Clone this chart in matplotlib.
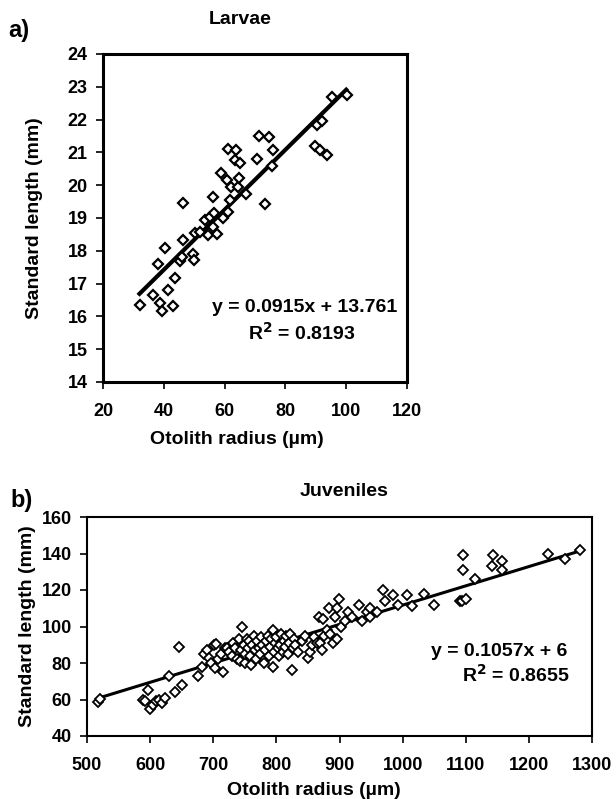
import numpy as np
import matplotlib
matplotlib.use("Agg")
import matplotlib.pyplot as plt

plt.rcParams["font.family"] = ["Liberation Sans", "DejaVu Sans"]
plt.rcParams["font.weight"] = "bold"

# ---------- data: larvae ----------
larv_x = [32.2, 36.5, 38.2, 38.8, 39.3, 40.4, 41.5, 42.9, 43.7, 45.3, 45.9, 46.2,
          46.4, 49.7, 50.0, 50.3, 51.9, 53.5, 54.7, 55.2, 56.1, 56.1, 56.5, 57.4,
          58.7, 59.6, 60.7, 61.2, 61.2, 61.8, 62.0, 63.4, 63.8, 64.5, 64.7, 65.1,
          67.2, 70.8, 71.3, 73.2, 74.7, 75.6, 75.8, 89.7, 90.3, 91.4, 91.9, 93.8,
          95.2, 100.1]
larv_y = [16.35, 16.65, 17.6, 16.4, 16.17, 18.1, 16.8, 16.33, 17.16, 17.7, 17.82, 19.47,
          18.33, 17.9, 17.72, 18.53, 18.58, 18.94, 18.48, 19.04, 19.65, 18.73, 19.14, 18.51,
          20.36, 18.99, 20.16, 21.1, 19.19, 19.55, 19.95, 20.77, 21.07, 19.93, 20.23, 20.69,
          19.73, 20.8, 21.5, 19.43, 21.46, 20.58, 21.07, 21.2, 21.84, 21.07, 21.97, 20.92,
          22.7, 22.75]
larv_fit = (0.0915, 13.761)
larv_range = (32, 100)

# ---------- data: juveniles ----------
juv_x = [518, 521, 588, 592, 596, 600, 604, 609, 614, 619, 624, 630, 640, 645, 650,
         676, 682, 686, 690, 694, 697, 701, 703, 705, 708, 712, 716, 719, 721, 725,
         729, 731, 734, 737, 740, 742, 744, 746, 748, 750, 751, 753, 755, 757, 759, 760,
         762, 764, 766, 768, 770, 772, 774, 776, 778, 780, 782, 784, 786, 788, 790, 792,
         794, 794, 796, 798, 800, 802, 804, 806, 808, 810, 812, 814, 816, 818, 820, 822,
         824, 826, 828, 830,
         835, 840, 845, 850, 853, 857, 860, 864, 868, 869, 872, 874, 876, 880, 883, 885,
         890, 893, 896, 896, 899, 903, 908,
         914, 920, 931, 936, 943, 948, 949, 960, 969, 972, 985, 993, 1007, 1015, 1034, 1050,
         1091, 1094, 1101, 1095, 1096, 1115, 1141, 1143, 1157, 1157, 1231, 1257, 1281]
juv_y = [58.5, 60.5, 60, 59, 65, 55, 57, 59, 60, 58, 61, 73, 64, 89, 68,
         73, 78, 85, 87, 83, 80, 90, 77, 90.5, 82, 85, 75, 88, 88, 86,
         84, 91, 88, 82, 93, 81, 87, 100, 90, 80, 85, 93, 88, 92, 84, 79,
         90, 95, 87, 82, 92, 88, 85, 94, 90, 80, 87, 92, 95, 84, 89, 93,
         98, 78, 86, 91, 94, 88, 84, 90, 96, 86, 92, 89, 95, 85, 91, 96,
         76, 88, 93, 90,
         86, 92, 95, 83, 86, 90, 94, 91, 105, 91, 87, 104, 95, 98, 110, 96,
         91, 105, 93, 110, 115, 100, 103,
         108, 105, 112, 103, 108, 105, 110, 108, 120, 114, 117, 112, 117, 111, 118, 112,
         114, 114, 115, 131, 139, 126, 133, 139, 136, 131, 140, 137, 142]
juv_fit = (0.1057, 6)
juv_range = (520, 1280)

W, H = 616, 799


def px(x, y):
    return x / W, 1 - y / H


def style_axes(ax, spine_lw):
    for s in ax.spines.values():
        s.set_linewidth(spine_lw)
    ax.tick_params(direction="out", length=5, width=1.2, labelsize=13)
    ax.tick_params(axis="x", pad=10)
    ax.tick_params(axis="y", pad=6)
    for lbl in ax.get_xticklabels() + ax.get_yticklabels():
        lbl.set_fontweight("bold")


fig = plt.figure(figsize=(W / 100, H / 100), dpi=100)

# ---------- a) larvae ----------
ax1 = fig.add_axes([103 / W, 1 - 382 / H, (407 - 103) / W, (382 - 54) / H])
ax1.plot(larv_x, larv_y, "D", ms=5.5, mfc="white", mec="black", mew=1.6, zorder=3)
xl = np.array(larv_range)
ax1.plot(xl, larv_fit[0] * xl + larv_fit[1], color="black", lw=3, zorder=2)
ax1.set_xlim(20, 120)
ax1.set_ylim(14, 24)
ax1.set_xticks(range(20, 121, 20))
ax1.set_yticks(range(14, 25))
style_axes(ax1, 2.2)
ax1.set_xlabel("Otolith radius (µm)", fontsize=14, fontweight="bold", labelpad=8)
ax1.xaxis.label.set_x(0.44)
ax1.set_ylabel("Standard length (mm)", fontsize=14, fontweight="bold", labelpad=18)

fig.text(*px(8, 30), "a)", fontsize=17, fontweight="bold", ha="left", va="center")
fig.text(*px(240, 20), "Larvae", fontsize=14, fontweight="bold", ha="center", va="center")
fig.text(*px(305, 308), "y = 0.0915x + 13.761", fontsize=14, fontweight="bold",
         ha="center", va="center")
fig.text(*px(302, 333), "R$^\\mathbf{2}$ = 0.8193", fontsize=14, fontweight="bold",
         ha="center", va="center")

# ---------- b) juveniles ----------
ax2 = fig.add_axes([87 / W, 1 - 736 / H, (592 - 87) / W, (736 - 517) / H])
ax2.plot(juv_x, juv_y, "D", ms=5.5, mfc="white", mec="black", mew=1.3, zorder=3)
xj = np.array(juv_range)
ax2.plot(xj, juv_fit[0] * xj + juv_fit[1], color="black", lw=2.2, zorder=2)
ax2.set_xlim(500, 1300)
ax2.set_ylim(40, 160)
ax2.set_xticks(range(500, 1301, 100))
ax2.set_yticks(range(40, 161, 20))
style_axes(ax2, 1.5)
ax2.set_xlabel("Otolith radius (µm)", fontsize=14, fontweight="bold", labelpad=6)
ax2.xaxis.label.set_x(0.45)
ax2.set_ylabel("Standard length (mm)", fontsize=14, fontweight="bold", labelpad=4)

fig.text(*px(10, 501), "b)", fontsize=17, fontweight="bold", ha="left", va="center")
fig.text(*px(344, 491), "Juveniles", fontsize=14, fontweight="bold", ha="center", va="center")
fig.text(*px(499, 652), "y = 0.1057x + 6", fontsize=14, fontweight="bold",
         ha="center", va="center")
fig.text(*px(516, 675), "R$^\\mathbf{2}$ = 0.8655", fontsize=14, fontweight="bold",
         ha="center", va="center")

fig.savefig("out.png", dpi=100)
